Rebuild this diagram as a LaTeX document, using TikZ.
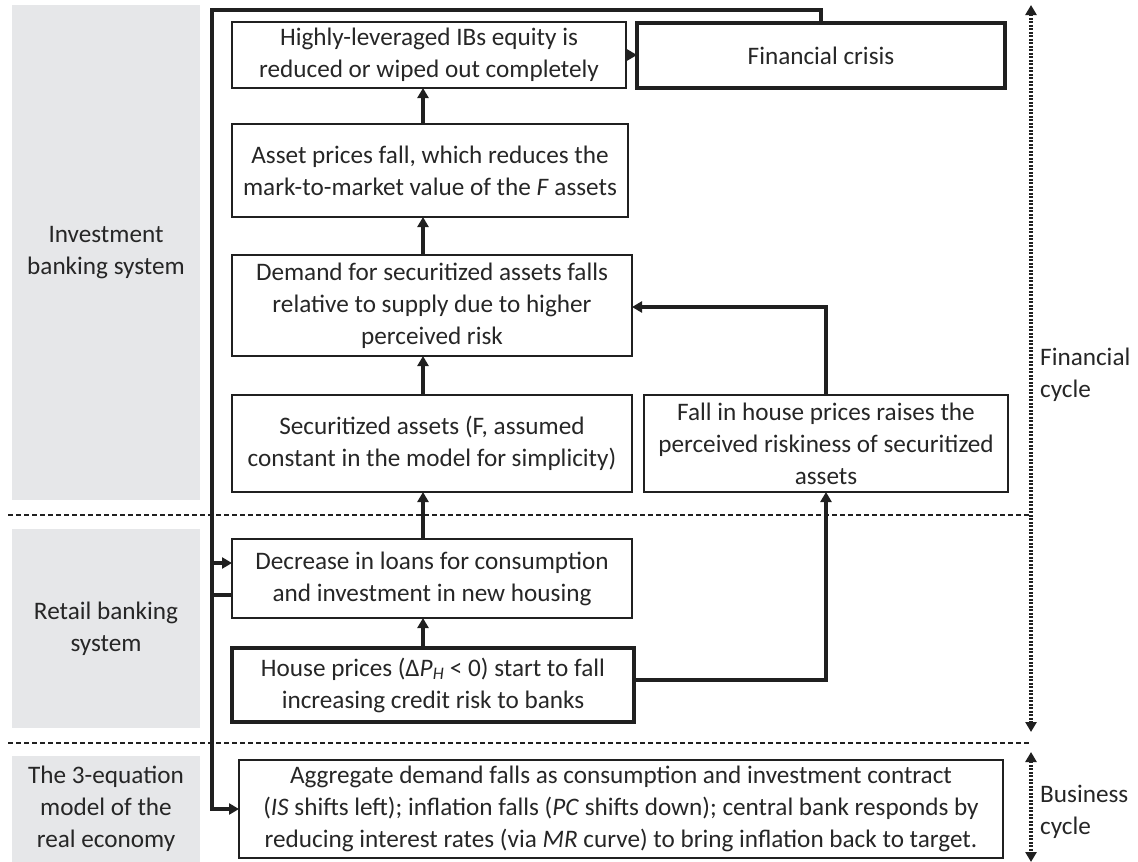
\documentclass[tikz,border=0pt]{standalone}
\usepackage{fontspec}
\setmainfont{Carlito}
\usetikzlibrary{arrows.meta}
\definecolor{linec}{HTML}{202020}
\definecolor{textc}{HTML}{262626}
\definecolor{panelc}{HTML}{E6E7E9}
\newcommand{\bxfont}{\fontsize{25.2}{32}\selectfont\color{textc}}
\tikzset{
  box/.style={draw=linec, line width=1.6pt, align=center, inner sep=0pt, outer sep=0pt, font=\bxfont},
  thickbox/.style={box, line width=3.6pt},
  conn/.style={draw=linec, line width=3.6pt},
  arr/.style={conn, -{Triangle[length=10pt,width=11pt]}},
  panel/.style={fill=panelc, draw=none, align=center, inner sep=0pt, font=\bxfont},
  sep/.style={draw=linec, line width=1.2pt, dash pattern=on 5pt off 3pt},
  dotarr/.style={draw=linec, line width=3.8pt, dash pattern=on 2pt off 1.5pt, {Triangle[length=10pt,width=11pt]}-{Triangle[length=10pt,width=11pt]}},
  lab/.style={align=left, inner sep=0pt, anchor=west, font=\bxfont}
}
\begin{document}
\begin{tikzpicture}[x=1pt,y=-1pt]
\useasboundingbox (0,0) rectangle (1138,862);
% panels
\node[panel, minimum width=188pt, minimum height=495pt] (inv) at (106,252.5) {Investment\\banking system};
\node[panel, minimum width=188pt, minimum height=199pt] (ret) at (106,628.5) {Retail banking\\system};
\node[panel, minimum width=188pt, minimum height=106pt] (teq) at (106,809) {The 3-equation\\model of the\\real economy};
% separators
\coordinate (s1a) at (8,515); \coordinate (s1b) at (1030,515);
\coordinate (s2a) at (8,743); \coordinate (s2b) at (1030,743);
\draw[sep] (s1a) -- (s1b);
\draw[sep] (s2a) -- (s2b);
% boxes
\node[box, minimum width=394pt, minimum height=66pt] (high) at (429,55) {Highly-leveraged IBs equity is\\reduced or wiped out completely};
\node[thickbox, minimum width=368pt, minimum height=65pt] (crisis) at (821,55.5) {Financial crisis};
\node[box, minimum width=396pt, minimum height=93pt] (asset) at (430,170.5) {Asset prices fall, which reduces the\\mark-to-market value of the \textit{F} assets};
\node[box, minimum width=400pt, minimum height=101pt] (demand) at (432,305.5) {Demand for securitized assets falls\\relative to supply due to higher\\perceived risk};
\node[box, minimum width=400pt, minimum height=97pt] (secur) at (432,443.5) {Securitized assets (F, assumed\\constant in the model for simplicity)};
\node[box, minimum width=364pt, minimum height=97pt] (fall) at (826,443.5) {Fall in house prices raises the\\perceived riskiness of securitized\\assets};
\node[box, minimum width=400pt, minimum height=79pt] (decr) at (432,578.5) {Decrease in loans for consumption\\and investment in new housing};
\node[thickbox, minimum width=402pt, minimum height=74pt] (house) at (433,685) {House prices (Δ\textit{P}\textsubscript{\textit{H}} < 0) start to fall\\increasing credit risk to banks};
\node[box, minimum width=764pt, minimum height=98pt] (agg) at (621,809) {Aggregate demand falls as consumption and investment contract\\(\textit{IS} shifts left); inflation falls (\textit{PC} shifts down); central bank responds by\\reducing interest rates (via \textit{MR} curve) to bring inflation back to target.};
% connectors
\coordinate (ax) at (423,0);
\coordinate (lx) at (212,0);
\coordinate (topy) at (0,10);
\coordinate (ya) at (0,563);
\coordinate (yb) at (0,595);
\coordinate (yd) at (0,307);
\coordinate (yh) at (0,680);
\draw[arr] (house.north -| ax) -- (decr.south -| ax);
\draw[arr] (decr.north -| ax) -- (secur.south -| ax);
\draw[arr] (secur.north -| ax) -- (demand.south -| ax);
\draw[arr] (demand.north -| ax) -- (asset.south -| ax);
\draw[arr] (asset.north -| ax) -- (high.south -| ax);
\draw[arr] (high.east) -- (high.east -| crisis.west);
\draw[arr] (crisis.north) -- (crisis.north |- topy) -- (lx |- topy) -- (lx |- agg.west) -- (agg.west);
\draw[arr] (lx |- ya) -- (decr.west |- ya);
\draw[conn] (decr.west |- yb) -- (lx |- yb);
\draw[arr] (fall.north) |- (demand.east |- yd);
\draw[arr] (house.east |- yh) -| (fall.south);
% cycles
\coordinate (fc1) at (1031,5); \coordinate (fc2) at (1031,732);
\coordinate (bc1) at (1031,752); \coordinate (bc2) at (1031,862);
\draw[dotarr] (fc1) -- (fc2);
\draw[dotarr] (bc1) -- (bc2);
\node[lab] (flab) at (1040,375) {Financial\\cycle};
\node[lab] (blab) at (1040,812) {Business\\cycle};
\end{tikzpicture}
\end{document}
